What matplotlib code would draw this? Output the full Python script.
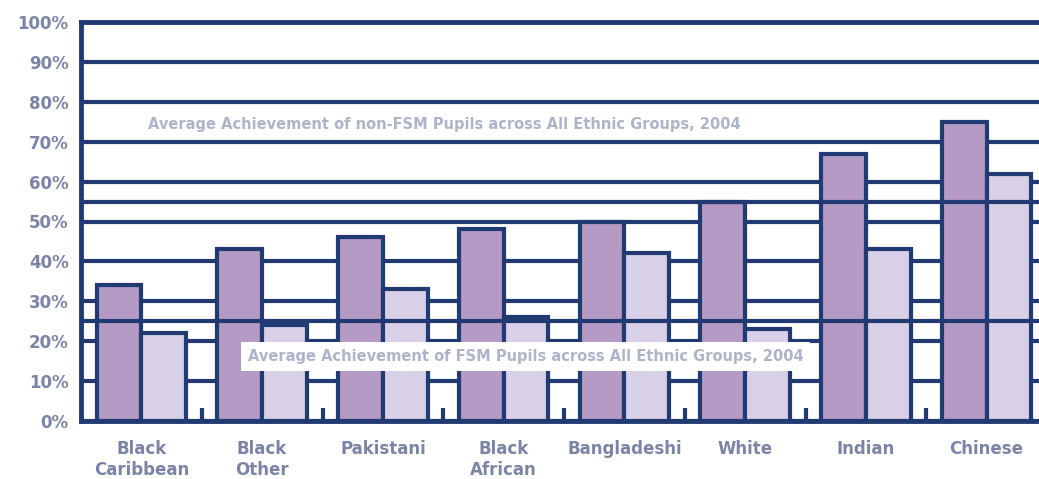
import numpy as np
import matplotlib
matplotlib.use('Agg')
import matplotlib.pyplot as plt

groups = ['Black\nCaribbean', 'Black\nOther', 'Pakistani', 'Black\nAfrican', 'Bangladeshi', 'White', 'Indian', 'Chinese']
non_fsm = [34, 43, 46, 48, 50, 55, 67, 75]
fsm = [22, 24, 33, 26, 42, 23, 43, 62]
avg_non_fsm = 55
avg_fsm = 25
label_top = 'Average Achievement of non-FSM Pupils across All Ethnic Groups, 2004'
label_low = 'Average Achievement of FSM Pupils across All Ethnic Groups, 2004'

navy = '#213b72'; dark = '#b49ac5'; light = '#d8d0e7'; txt = '#7b84a4'; faint = '#aeb4c8'
W, H = 1039, 479
fig = plt.figure(figsize=(W/100, H/100), dpi=100)
ax = fig.add_axes([81/W, 58/H, 966/W, 399/H])
x = np.arange(len(groups)); bw = 0.37
ax.bar(x-bw/2, non_fsm, bw, color=dark, edgecolor=navy, linewidth=3, zorder=2)
ax.bar(x+bw/2, fsm, bw, color=light, edgecolor=navy, linewidth=3, zorder=2)
ax.axhline(avg_non_fsm, color=navy, lw=3, zorder=3)
ax.axhline(avg_fsm, color=navy, lw=3, zorder=3)
ax.set_xlim(-0.5, len(groups)-0.5); ax.set_ylim(0, 100)
ax.set_yticks(range(0, 101, 10)); ax.set_yticklabels([f'{v}%' for v in range(0, 101, 10)])
ax.yaxis.grid(True, color=navy, lw=3); ax.set_axisbelow(True)
ax.set_xticks(x); ax.set_xticklabels(groups, multialignment='center')
ax.set_xticks(np.arange(0.5, len(groups)-1, 1), minor=True)
ax.tick_params(axis='both', which='major', length=0, labelsize=12, labelcolor=txt)
ax.tick_params(axis='y', pad=9); ax.tick_params(axis='x', pad=14)
ax.tick_params(axis='x', which='minor', direction='in', length=9.5, width=3, color=navy)
for lab in ax.get_xticklabels()+ax.get_yticklabels(): lab.set_fontweight('bold')
for s in ['left', 'bottom', 'top']: ax.spines[s].set_color(navy); ax.spines[s].set_linewidth(3.5)
ax.spines['right'].set_visible(False)
ax.text(0.055, 74.2, label_top, color=faint, fontsize=10.5, fontweight='bold', va='center', ha='left', zorder=4)
ax.text(0.88, 16.2, label_low, color=faint, fontsize=10.5, fontweight='bold', va='center', ha='left', zorder=4,
        bbox=dict(facecolor='white', edgecolor='none', pad=5))
fig.savefig('out.png', dpi=100)
